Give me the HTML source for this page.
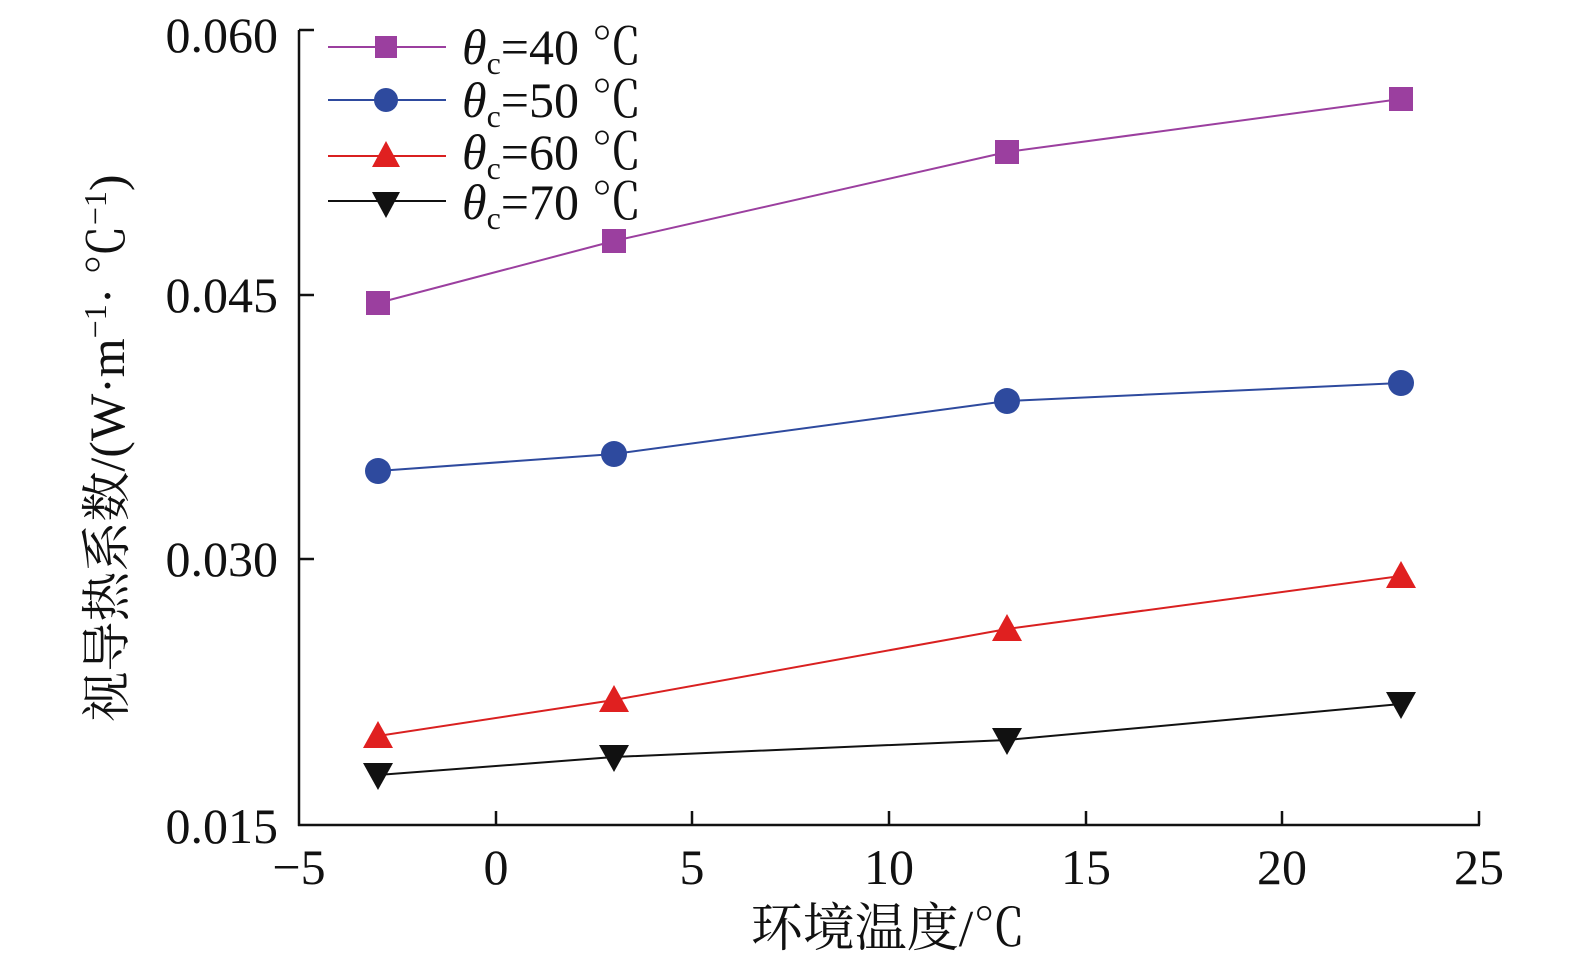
<!DOCTYPE html>
<html><head><meta charset="utf-8"><style>
html,body{margin:0;padding:0;background:#fff;}
svg{display:block;}
text{font-family:"Liberation Serif","Noto Serif CJK SC",serif;fill:#111;}
</style></head><body>
<svg width="1575" height="974" viewBox="0 0 1575 974" xmlns="http://www.w3.org/2000/svg">
<g stroke="#111" stroke-width="2.5" fill="none">
<line x1="299" y1="30" x2="299" y2="826"/>
<line x1="298" y1="825" x2="1480" y2="825"/>
<line x1="299" y1="30" x2="314" y2="30"/>
<line x1="299" y1="295" x2="314" y2="295"/>
<line x1="299" y1="559" x2="314" y2="559"/>
<line x1="496" y1="825" x2="496" y2="811"/>
<line x1="692" y1="825" x2="692" y2="811"/>
<line x1="889" y1="825" x2="889" y2="811"/>
<line x1="1086" y1="825" x2="1086" y2="811"/>
<line x1="1282" y1="825" x2="1282" y2="811"/>
<line x1="1479" y1="825" x2="1479" y2="811"/>
</g>
<g font-size="50" text-anchor="end">
<text x="278" y="52">0.060</text>
<text x="278" y="312">0.045</text>
<text x="278" y="576">0.030</text>
<text x="278" y="843">0.015</text>
</g>
<g font-size="50" text-anchor="middle">
<text x="299" y="884">−5</text>
<text x="496" y="884">0</text>
<text x="692" y="884">5</text>
<text x="889" y="884">10</text>
<text x="1086" y="884">15</text>
<text x="1282" y="884">20</text>
<text x="1479" y="884">25</text>
<text x="888" y="946" font-size="52">环境温度/℃</text>
</g>
<text font-size="50" text-anchor="middle" transform="translate(124,448) rotate(-90)">视导热系数/(W·m<tspan font-size="32" dy="-18">−1</tspan><tspan dy="18">· ℃</tspan><tspan font-size="32" dy="-18">−1</tspan><tspan dy="18">)</tspan></text>

<polyline points="378,303 614,241 1007,152 1401,99" fill="none" stroke="#9b3f9f" stroke-width="2"/>
<polyline points="378,471 614,454 1007,401 1401,383" fill="none" stroke="#2e4a9e" stroke-width="2"/>
<polyline points="378,736 614,700 1007,629 1401,576" fill="none" stroke="#d92020" stroke-width="2"/>
<polyline points="378,775 614,757 1007,740 1401,704" fill="none" stroke="#111" stroke-width="2"/>

<g fill="#9b3f9f">
<rect x="366" y="291" width="24" height="24"/><rect x="602" y="229" width="24" height="24"/><rect x="995" y="140" width="24" height="24"/><rect x="1389" y="87" width="24" height="24"/>
</g>
<g fill="#2e4a9e">
<circle cx="378" cy="471" r="13"/><circle cx="614" cy="454" r="13"/><circle cx="1007" cy="401" r="13"/><circle cx="1401" cy="383" r="13"/>
</g>
<g fill="#e02020">
<polygon points="378,721 363,748 393,748"/><polygon points="614,685 599,712 629,712"/><polygon points="1007,614 992,641 1022,641"/><polygon points="1401,561 1386,588 1416,588"/>
</g>
<g fill="#111">
<polygon points="378,790 363,763 393,763"/><polygon points="614,772 599,745 629,745"/><polygon points="1007,755 992,728 1022,728"/><polygon points="1401,719 1386,692 1416,692"/>
</g>

<g stroke-width="2">
<line x1="328" y1="47" x2="446" y2="47" stroke="#9b3f9f"/>
<line x1="328" y1="100" x2="446" y2="100" stroke="#2e4a9e"/>
<line x1="328" y1="156" x2="446" y2="156" stroke="#d92020"/>
<line x1="328" y1="201" x2="446" y2="201" stroke="#111"/>
</g>
<rect x="375" y="36" width="22" height="22" fill="#9b3f9f"/>
<circle cx="386" cy="100" r="12" fill="#2e4a9e"/>
<polygon points="386,141 372,167 400,167" fill="#e02020"/>
<polygon points="386,218 372,192 400,192" fill="#111"/>
<g font-size="50">
<text x="462" y="64"><tspan font-style="italic">θ</tspan><tspan font-size="32" dy="10">c</tspan><tspan dy="-10">=40 ℃</tspan></text>
<text x="462" y="117"><tspan font-style="italic">θ</tspan><tspan font-size="32" dy="10">c</tspan><tspan dy="-10">=50 ℃</tspan></text>
<text x="462" y="169"><tspan font-style="italic">θ</tspan><tspan font-size="32" dy="10">c</tspan><tspan dy="-10">=60 ℃</tspan></text>
<text x="462" y="219"><tspan font-style="italic">θ</tspan><tspan font-size="32" dy="10">c</tspan><tspan dy="-10">=70 ℃</tspan></text>
</g>
</svg>
</body></html>
